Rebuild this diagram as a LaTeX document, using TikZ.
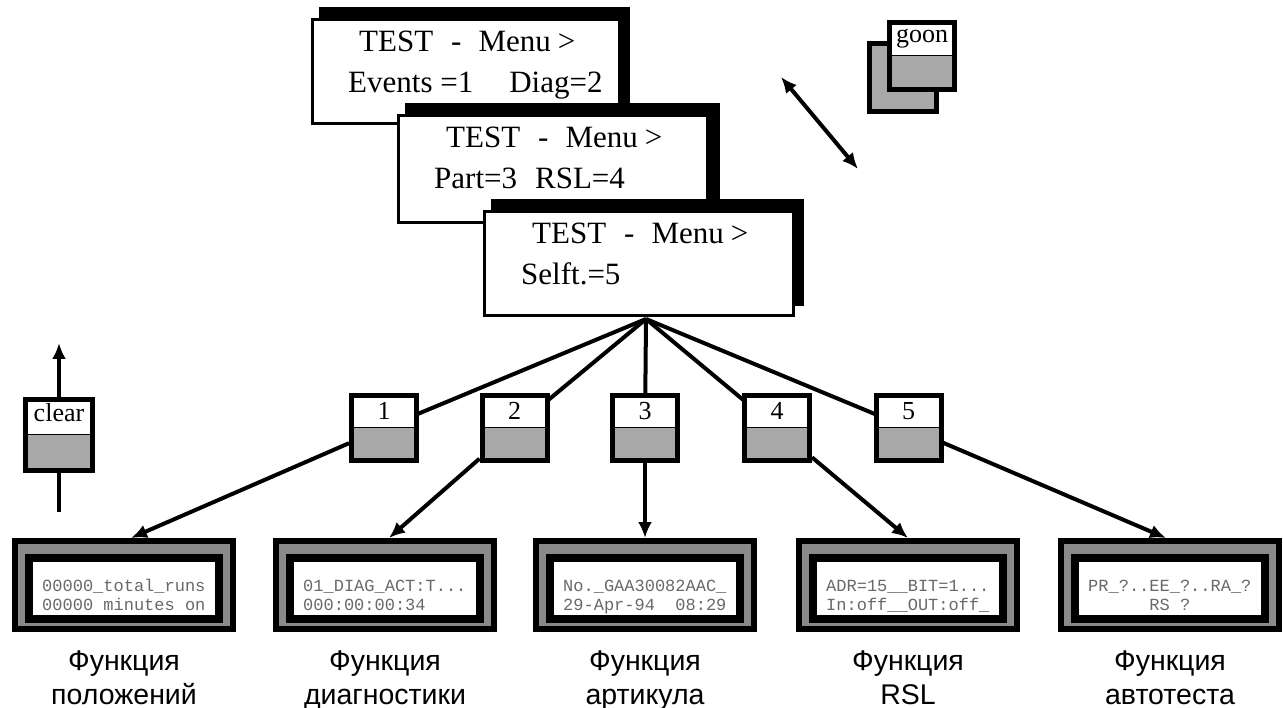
\documentclass[tikz,border=0pt]{standalone}
\usepackage{fontspec}
\setmainfont{Liberation Serif}
\newfontfamily\lblfont{Liberation Sans}
\newfontfamily\lcdfont{Liberation Mono}
\usetikzlibrary{arrows.meta,calc}
\definecolor{keygray}{RGB}{168,168,168}
\definecolor{dispgray}{RGB}{138,138,138}
\definecolor{lcdtext}{RGB}{105,105,105}
\tikzset{
  menubox/.style={draw=black,line width=3pt,fill=white,inner sep=0pt,anchor=north west},
  menushadow/.style={fill=black},
  menutext/.style={font=\fontsize{31}{36}\selectfont,inner sep=0pt,anchor=base west},
  halfbox/.style={draw=black,line width=5pt,fill=white,inner sep=0pt,
    path picture={\fill[keygray] (path picture bounding box.west) rectangle (path picture bounding box.south east);
      \draw[line width=1pt] (path picture bounding box.west) -- (path picture bounding box.east);}},
  keybox/.style={halfbox,minimum width=65pt,minimum height=65pt},
  keynum/.style={font=\fontsize{26}{30}\selectfont,inner sep=0pt,anchor=base},
  dispouter/.style={draw=black,line width=6pt,fill=dispgray,minimum width=218pt,minimum height=88pt,inner sep=0pt},
  screen/.style={draw=black,line width=8pt,fill=white,minimum width=190pt,minimum height=61pt,inner sep=0pt},
  lcd/.style={font=\lcdfont\fontsize{17}{20}\selectfont,text=lcdtext,inner sep=0pt,anchor=base west},
  lbl/.style={font=\lblfont\fontsize{28.5}{34}\selectfont,align=center,inner sep=0pt,anchor=north},
  conn/.style={line width=4pt},
  arr/.style={line width=4pt,-{Latex[length=16pt,width=14pt]}},
  dblarr/.style={line width=4pt,{Latex[length=16pt,width=14pt]}-{Latex[length=16pt,width=14pt]}}
}
\begin{document}
\begin{tikzpicture}[x=1pt,y=-1pt]
\useasboundingbox (0,0) rectangle (1283,708);
\fill[white] (0,0) rectangle (1283,708);

% menu boxes
\fill[menushadow] (319,7) rectangle (630,114);
\node[menubox,minimum width=307pt,minimum height=104pt] (m1) at (311,18) {};
\node[menutext] (m1a) at (359,52) {TEST\hspace{18pt}-\hspace{17pt}Menu\hspace{7pt}>};
\node[menutext] (m1b) at (348,93) {Events =1\hspace{36pt}Diag=2};

\fill[menushadow] (405,103) rectangle (720,210);
\node[menubox,minimum width=309pt,minimum height=107pt] (m2) at (397,114) {};
\node[menutext] (m2a) at (446,148) {TEST\hspace{18pt}-\hspace{17pt}Menu\hspace{7pt}>};
\node[menutext] (m2b) at (434,189) {Part=3\hspace{18pt}RSL=4};

\fill[menushadow] (491,199) rectangle (804,306);
\node[menubox,minimum width=309pt,minimum height=104pt] (m3) at (483,210) {};
\node[menutext] (m3a) at (532,244) {TEST\hspace{18pt}-\hspace{17pt}Menu\hspace{7pt}>};
\node[menutext] (m3b) at (521,285) {Selft.=5};

\coordinate (apex) at ($(m3.south)+(7,2)$);

% goon button
\node[draw=black,line width=5pt,fill=keygray,minimum width=67pt,minimum height=68pt,inner sep=0pt] (gback) at (903,77.5) {};
\node[halfbox,minimum width=65pt,minimum height=67pt] (gfront) at (922,56) {};
\node[keynum] (gtext) at ($(gfront.center)+(0,-13)$) {goon};
\coordinate (ga) at (781,77);
\coordinate (gb) at (858,169);
\draw[dblarr] (ga) -- (gb);

% clear button
\node[halfbox,minimum width=67pt,minimum height=71pt] (clr) at (59,435) {};
\node[keynum] (ctext) at ($(clr.center)+(0,-13)$) {clear};
\coordinate (cup) at (59,343);
\coordinate (cdown) at (59,512);
\draw[arr] (clr.north) -- (cup);
\draw[conn] (clr.south) -- (cdown);

% keys
\draw[conn] (apex) -- (384,428);
\draw[conn] (apex) -- (514.5,428);
\draw[conn] (apex) -- (645,428);
\draw[conn] (apex) -- (777,428);
\draw[conn] (apex) -- (908.5,428);
\node[keybox] (k1) at (384,428) {};
\node[keybox] (k2) at (514.5,428) {};
\node[keybox] (k3) at (645,428) {};
\node[keybox] (k4) at (777,428) {};
\node[keybox] (k5) at (908.5,428) {};
\node[keynum] (t1) at ($(k1.center)+(0,-8)$) {1};
\node[keynum] (t2) at ($(k2.center)+(0,-8)$) {2};
\node[keynum] (t3) at ($(k3.center)+(0,-8)$) {3};
\node[keynum] (t4) at ($(k4.center)+(0,-8)$) {4};
\node[keynum] (t5) at ($(k5.center)+(0,-8)$) {5};

% displays
\node[dispouter] (d1) at (124,585) {};
\node[dispouter] (d2) at (385,585) {};
\node[dispouter] (d3) at (645,585) {};
\node[dispouter] (d4) at (908,585) {};
\node[dispouter] (d5) at (1170,585) {};
\node[screen] (s1) at (124,588) {};
\node[screen] (s2) at (385,588) {};
\node[screen] (s3) at (645,588) {};
\node[screen] (s4) at (908,588) {};
\node[screen] (s5) at (1170,588) {};

\node[lcd] (l1a) at (42,591) {00000\_total\_runs};
\node[lcd] (l1b) at (42,610) {00000 minutes on};
\node[lcd] (l2a) at (303,591) {01\_DIAG\_ACT:T...};
\node[lcd] (l2b) at (303,610) {000:00:00:34};
\node[lcd] (l3a) at (563,591) {No.\_GAA30082AAC\_};
\node[lcd] (l3b) at (563,610) {29-Apr-94~~08:29};
\node[lcd] (l4a) at (826,591) {ADR=15\_\_BIT=1...};
\node[lcd] (l4b) at (826,610) {In:off\_\_OUT:off\_};
\node[lcd] (l5a) at (1088,591) {PR\_?..EE\_?..RA\_?};
\node[lcd] (l5b) at (1088,610) {~~~~~~RS ?};

% key -> display arrows
\draw[arr] (k1) -- ($(d1.north)+(7,0)$);
\draw[arr] (k2) -- ($(d2.north)+(4,0)$);
\draw[arr] (k3) -- (d3.north);
\draw[arr] (k4) -- (d4.north);
\draw[arr] (k5) -- ($(d5.north)+(-4,0)$);

% labels
\node[lbl] (f1) at (124,646) {\strut Функция\\\strut положений};
\node[lbl] (f2) at (385,646) {\strut Функция\\\strut диагностики};
\node[lbl] (f3) at (645,646) {\strut Функция\\\strut артикула};
\node[lbl] (f4) at (908,646) {\strut Функция\\\strut RSL};
\node[lbl] (f5) at (1170,646) {\strut Функция\\\strut автотеста};
\end{tikzpicture}
\end{document}
